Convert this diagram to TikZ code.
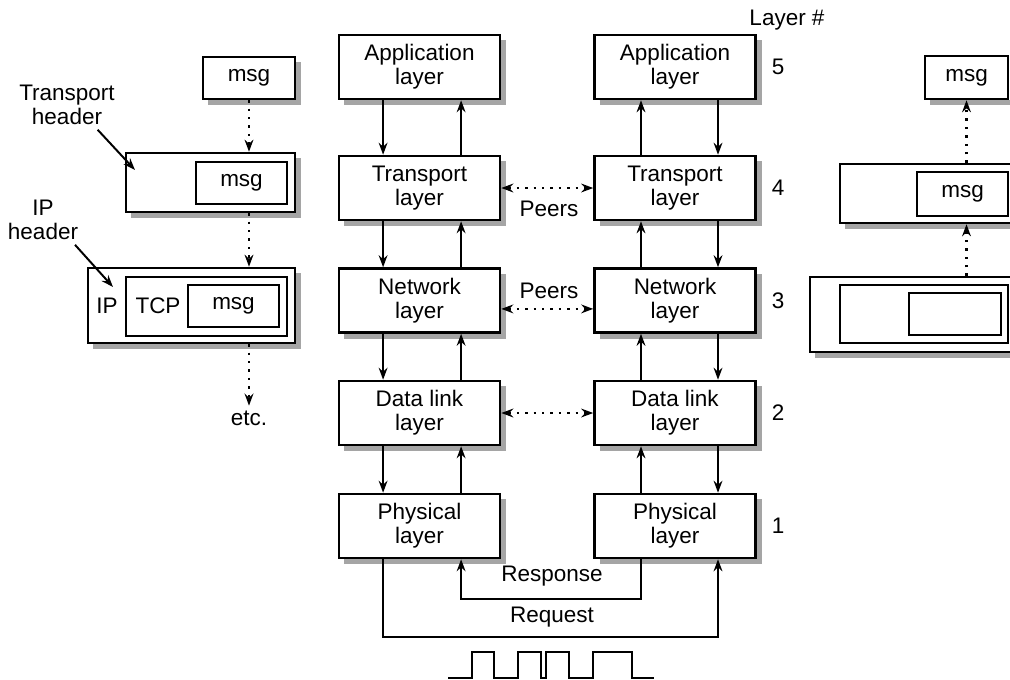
\documentclass[tikz,border=0pt]{standalone}
\usepackage{fontspec}
\setmainfont{Liberation Sans}
\usetikzlibrary{arrows.meta,positioning}
\definecolor{shadowgray}{RGB}{165,165,165}
\tikzset{barb/.tip={Stealth[length=0.3cm,width=0.22cm,inset=0.1cm]}}

\begin{document}
\begin{tikzpicture}[x=0.025cm,y=-0.025cm,font=\fontsize{16}{17}\selectfont,
  layerbox/.style={draw,line width=1.8pt,fill=white,align=center,minimum width=4.025cm,minimum height=1.6cm,inner sep=0pt},
  pkt/.style={draw,line width=1.8pt,fill=white,inner sep=0pt},
  shadowline/.style={shadowgray,line width=3.6pt},
  conn/.style={line width=1.4pt,-barb},
  dotarrow/.style={line width=1.6pt,dash pattern=on 0.06cm off 0.15cm,-barb},
  peer/.style={dotarrow,barb-barb}]
\useasboundingbox (0,0) rectangle (1010,679);
% layer stacks
\foreach \r/\y/\t/\n in {1/67/Application/5, 2/188/Transport/4, 3/300.5/Network/3, 4/413/Data link/2, 5/526/Physical/1}{
  \draw[shadowline] (419.5-80.5+5,\y+32+3.5) -- (419.5+80.5+3.5,\y+32+3.5) -- (419.5+80.5+3.5,\y-32+5);
  \draw[shadowline] (675-80.5+5,\y+32+3.5) -- (675+80.5+3.5,\y+32+3.5) -- (675+80.5+3.5,\y-32+5);
  \node[layerbox] (a\r) at (419.5,\y) {\t\\layer};
  \node[layerbox] (b\r) at (675,\y) {\t\\layer};
  \node (n\r) at (778,\y) {\n};}
\node (layernum) at (787,20) {Layer \#};
\foreach \r/\s in {1/2,2/3,3/4,4/5}{
  \draw[conn] ([xshift=-0.91cm]a\r.south) -- ([xshift=-0.91cm]a\s.north);
  \draw[conn] ([xshift=1.04cm]a\s.north) -- ([xshift=1.04cm]a\r.south);
  \draw[conn] ([xshift=-0.85cm]b\s.north) -- ([xshift=-0.85cm]b\r.south);
  \draw[conn] ([xshift=1.075cm]b\r.south) -- ([xshift=1.075cm]b\s.north);}
% request / response
\draw[conn] ([xshift=-0.91cm]a5.south) -- ++(0,78) -| ([xshift=1.075cm]b5.south);
\draw[conn] ([xshift=-0.85cm]b5.south) -- ++(0,40) -| ([xshift=1.04cm]a5.south);
\node (resp) at (552,576) {Response};
\node (req) at (552,617) {Request};
\draw[line width=1.4pt] (448,678) -- (472,678) -- (472,652) -- (494,652) -- (494,678) -- (518,678)
  -- (518,652) -- (541,652) -- (541,678) -- (546,678) -- (546,652) -- (569,652) -- (569,678)
  -- (593,678) -- (593,652) -- (632,652) -- (632,678) -- (654,678);
% peers
\draw[peer] (a2.east) -- (b2.west);
\draw[peer] ([yshift=-0.21cm]a3.east) -- ([yshift=-0.21cm]b3.west);
\draw[peer] (a4.east) -- (b4.west);
\node (peer1) at (549,209) {Peers};
\node (peer2) at (549,291) {Peers};
% sending side
\draw[shadowline] (208,102.5) -- (298.5,102.5) -- (298.5,62);
\draw[shadowline] (131,215.5) -- (298.5,215.5) -- (298.5,158);
\draw[shadowline] (93,346.5) -- (298.5,346.5) -- (298.5,273);
\node[pkt,minimum width=2.3cm,minimum height=1.05cm] (lmsg) at (249,78) {msg};
\node[pkt,minimum width=4.225cm,minimum height=1.475cm] (ltp) at (210.5,182.5) {};
\node[pkt,minimum width=2.275cm,minimum height=1.05cm] (ltpmsg) at (241.5,183) {msg};
\node[pkt,minimum width=5.175cm,minimum height=1.875cm] (lip) at (191.5,305.5) {};
\node[pkt,minimum width=4.025cm,minimum height=1.475cm] (liptcp) at (206.5,306.5) {};
\node[pkt,minimum width=2.275cm,minimum height=1.05cm] (lipmsg) at (233.5,306) {msg};
\node (lipip) at (107,306) {IP};
\node (liptcplbl) at (158,306) {TCP};
\node (letc) at (249,418) {etc.};
\node[align=center] (lthdr) at (67,105) {Transport\\header};
\node[align=center] (liphdr) at (43,220) {IP\\header};
\coordinate (lthtip) at (135,170);
\coordinate (liptip) at (113,287);
\draw[conn] ([xshift=-0.55cm]lthdr.south east) -- (lthtip);
\draw[conn] ([xshift=-0.2cm]liphdr.south east) -- (liptip);
\draw[dotarrow] (lmsg.south) -- (lmsg.south |- ltp.north);
\draw[dotarrow] (ltp.south -| lmsg.south) -- (lip.north -| lmsg.south);
\draw[dotarrow] (lip.south -| lmsg.south) -- (letc.north);
% receiving side
\draw[shadowline] (930,102.5) -- (1010,102.5);
\draw[shadowline] (845,226.5) -- (1010,226.5);
\draw[shadowline] (815,355.5) -- (1010,355.5);
\begin{scope}
\clip (0,0) rectangle (1010,679);
\node[pkt,minimum width=2.075cm,minimum height=1.075cm] (rmsg) at (966.5,77.5) {msg};
\node[pkt,minimum width=4.4cm,minimum height=1.475cm] (rtp) at (928,193.5) {};
\node[pkt,minimum width=2.275cm,minimum height=1.1cm] (rtpmsg) at (962.5,194) {msg};
\node[pkt,minimum width=5.25cm,minimum height=1.875cm] (rip) at (915,314.5) {};
\node[pkt,minimum width=4.2cm,minimum height=1.45cm] (riptcp) at (924,314) {};
\node[pkt,minimum width=2.3cm,minimum height=1.05cm] (ripmsg) at (955,314) {};
\end{scope}
\draw[dotarrow] (rtp.north -| rmsg.south) -- (rmsg.south);
\draw[dotarrow] (rip.north -| rmsg.south) -- (rtp.south -| rmsg.south);
\end{tikzpicture}
\end{document}
